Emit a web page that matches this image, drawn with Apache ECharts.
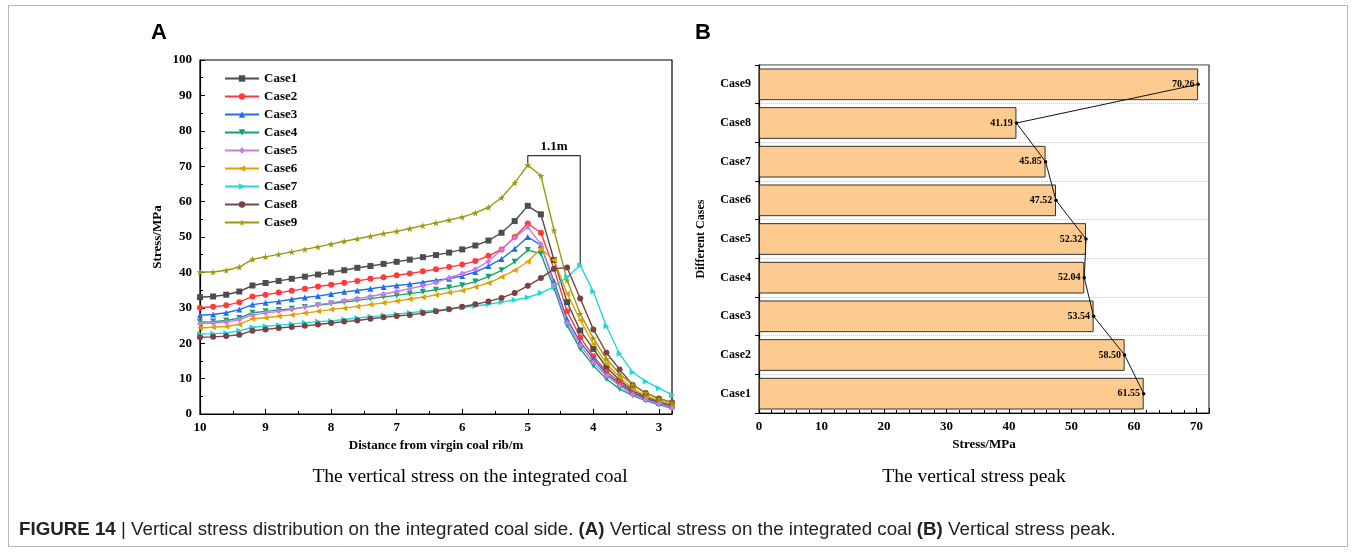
<!DOCTYPE html>
<html lang="en">
<head>
    <meta charset="UTF-8">
    <title>Vertical stress</title>
    <script src="https://cdn.jsdelivr.net/npm/echarts@6/dist/echarts.min.js"></script>
    <style>
        html, body {margin: 0; padding: 0; background: #fff;}
        #chart1 {width: 1356px; height: 552px;}
    </style>
</head>
<body>
<div id="chart1"></div>
<script type="text/javascript">
    // distance from virgin coal rib (m)
    var distance = [10.0, 9.8, 9.6, 9.4, 9.2, 9.0, 8.8, 8.6, 8.4, 8.2, 8.0, 7.8, 7.6, 7.4, 7.2, 7.0, 6.8, 6.6, 6.4,
        6.2, 6.0, 5.8, 5.6, 5.4, 5.2, 5.0, 4.8, 4.6, 4.4, 4.2, 4.0, 3.8, 3.6, 3.4, 3.2, 3.0, 2.8];

    var case1 = [33.0, 33.2, 33.7, 34.6, 36.3, 37.0, 37.6, 38.2, 38.8, 39.4, 40.0, 40.6, 41.3, 41.8, 42.4, 43.0, 43.6, 44.3, 44.9,
        45.6, 46.5, 47.6, 49.0, 51.2, 54.5, 58.8, 56.4, 43.5, 31.6, 23.6, 18.4, 13.2, 9.6, 6.6, 4.8, 3.5, 2.5];
    var case2 = [30.0, 30.3, 30.7, 31.6, 33.2, 33.7, 34.3, 34.8, 35.4, 36.0, 36.5, 37.1, 37.6, 38.2, 38.6, 39.2, 39.7, 40.3, 40.9,
        41.5, 42.2, 43.2, 44.7, 46.5, 50.0, 53.8, 51.2, 41.0, 29.0, 21.7, 16.3, 12.0, 9.0, 6.1, 4.5, 3.3, 2.3];
    var case3 = [27.9, 28.1, 28.6, 29.5, 30.9, 31.4, 31.8, 32.4, 32.9, 33.3, 33.9, 34.5, 34.9, 35.4, 35.9, 36.3, 36.7, 37.2, 37.8,
        38.2, 39.0, 40.1, 41.8, 43.8, 46.7, 50.0, 47.7, 37.5, 26.8, 20.3, 15.6, 11.3, 8.5, 5.9, 4.3, 3.1, 2.1];
    var case4 = [26.0, 26.1, 26.4, 27.1, 28.6, 29.0, 29.4, 29.7, 30.2, 30.7, 31.2, 31.6, 32.1, 32.6, 33.1, 33.5, 34.0, 34.5, 35.1,
        35.7, 36.4, 37.4, 38.8, 40.6, 43.0, 46.3, 45.3, 35.5, 25.0, 18.4, 13.7, 9.9, 7.1, 5.2, 3.8, 2.6, 1.6];
    var case5 = [25.5, 25.7, 26.0, 26.6, 28.0, 28.5, 29.0, 29.5, 30.2, 30.9, 31.4, 32.0, 32.6, 33.2, 33.9, 34.6, 35.4, 36.2, 37.1,
        38.5, 39.7, 40.9, 43.1, 46.5, 49.8, 52.8, 48.0, 36.5, 25.8, 19.4, 14.6, 10.8, 8.0, 5.5, 4.0, 2.8, 1.8];
    var case6 = [24.3, 24.5, 24.7, 25.3, 26.9, 27.2, 27.6, 28.0, 28.5, 29.0, 29.5, 29.9, 30.4, 30.9, 31.4, 31.9, 32.5, 33.0, 33.6,
        34.3, 34.9, 35.9, 37.0, 38.7, 40.6, 43.0, 46.7, 43.5, 34.0, 26.5, 19.8, 14.2, 10.4, 7.1, 5.2, 3.8, 2.8];
    var case7 = [22.6, 22.7, 22.9, 23.5, 24.5, 24.8, 25.1, 25.4, 25.8, 26.1, 26.3, 26.7, 27.1, 27.5, 27.8, 28.2, 28.6, 29.0, 29.3,
        29.7, 30.1, 30.5, 31.0, 31.6, 32.2, 32.9, 34.2, 35.9, 38.7, 42.0, 34.6, 24.8, 17.0, 11.8, 9.2, 7.3, 5.4];
    var case8 = [21.7, 21.8, 22.0, 22.4, 23.5, 23.9, 24.3, 24.6, 24.9, 25.3, 25.7, 26.1, 26.4, 26.9, 27.3, 27.7, 28.0, 28.5, 29.0,
        29.6, 30.3, 31.0, 31.8, 32.8, 34.2, 36.2, 38.4, 41.0, 41.4, 32.6, 23.9, 17.3, 12.6, 8.2, 5.9, 4.4, 3.3];
    var case9 = [40.1, 40.1, 40.6, 41.5, 43.7, 44.4, 45.1, 45.8, 46.5, 47.2, 48.0, 48.8, 49.5, 50.2, 51.0, 51.6, 52.4, 53.2, 54.0,
        54.8, 55.6, 56.8, 58.4, 61.1, 65.3, 70.3, 67.3, 51.9, 37.8, 28.3, 21.4, 15.6, 11.3, 8.3, 6.0, 4.3, 3.2];

    var caseNames = ['Case1', 'Case2', 'Case3', 'Case4', 'Case5', 'Case6', 'Case7', 'Case8', 'Case9'];
    var caseColors = ['#4d4d4d', '#ff3a3a', '#1f6fe8', '#10a468', '#c97be8', '#e3a100', '#1fd8d8', '#7b4242', '#9a9a12'];

    // peak stress (MPa) per case, panel B
    var peakValues = [61.55, 58.50, 53.54, 52.04, 52.32, 47.52, 45.85, 41.19, 70.26];

    // 1.1m bracket between the Case9 and Case7 peaks
    var bracketX = [5.0, 4.2];
    var bracketTop = 73;

    var starPath = 'path://M50,0 L61,35 L98,35 L68,57 L79,91 L50,70 L21,91 L32,57 L2,35 L39,35 Z';
    var symbols = [
        {symbol: 'rect', rotate: 0},
        {symbol: 'circle', rotate: 0},
        {symbol: 'triangle', rotate: 0},
        {symbol: 'triangle', rotate: 180},
        {symbol: 'diamond', rotate: 0},
        {symbol: 'triangle', rotate: 90},
        {symbol: 'triangle', rotate: -90},
        {symbol: 'circle', rotate: 0},
        {symbol: starPath, rotate: 0}
    ];
    var allCases = [case1, case2, case3, case4, case5, case6, case7, case8, case9];

    var serif = '"Liberation Serif", "Times New Roman", serif';
    var axisFont = {fontFamily: serif, fontWeight: 'bold', fontSize: 13, color: '#000'};
    var capFont = '"Liberation Sans", Arial, sans-serif';

    var series = [];
    for (var i = 0; i < allCases.length; i++) {
        var vals = allCases[i];
        series.push({
            name: caseNames[i],
            type: 'line',
            xAxisIndex: 0,
            yAxisIndex: 0,
            data: distance.map(function (d, k) { return [d, vals[k]]; }),
            symbol: symbols[i].symbol,
            symbolRotate: symbols[i].rotate,
            symbolSize: i === 8 ? 7 : 6,
            color: caseColors[i],
            lineStyle: {width: 1.4, color: caseColors[i]},
            z: 3
        });
    }

    // bracket
    series.push({
        name: 'bracket',
        type: 'line',
        xAxisIndex: 0,
        yAxisIndex: 0,
        data: [[bracketX[0], case9[distance.indexOf(bracketX[0])]], [bracketX[0], bracketTop],
            [bracketX[1], bracketTop], [bracketX[1], case7[distance.indexOf(bracketX[1])]]],
        symbol: 'none',
        lineStyle: {width: 1.2, color: '#333'},
        silent: true,
        markPoint: {
            symbol: 'circle',
            symbolSize: 0,
            data: [{coord: [(bracketX[0] + bracketX[1]) / 2, bracketTop], value: '1.1m'}],
            label: {show: true, position: 'top', distance: 2, formatter: '1.1m',
                fontFamily: serif, fontWeight: 'bold', fontSize: 13, color: '#000'}
        },
        z: 2
    });

    // panel B bars
    series.push({
        name: 'peak',
        type: 'bar',
        xAxisIndex: 1,
        yAxisIndex: 1,
        data: peakValues,
        barCategoryGap: '18%',
        itemStyle: {color: '#fdcb8f', borderColor: '#333', borderWidth: 1},
        z: 2
    });
    series.push({
        name: 'peakLine',
        type: 'line',
        xAxisIndex: 1,
        yAxisIndex: 1,
        data: peakValues.map(function (v, k) { return [v, caseNames[k]]; }),
        symbol: 'circle',
        symbolSize: 3.5,
        color: '#000',
        lineStyle: {width: 1, color: '#111'},
        label: {
            show: true, position: 'left', distance: 2,
            formatter: function (p) { return p.value[0].toFixed(2); },
            fontFamily: serif, fontWeight: 'bold', fontSize: 10, color: '#000'
        },
        z: 4
    });

    var myChart = echarts.init(document.getElementById('chart1'));
    var option = {
        backgroundColor: '#fff',
        animation: false,
        grid: [
            {left: 200, top: 60, width: 472, height: 354, show: true, borderColor: '#000', borderWidth: 1.2},
            {left: 759, top: 65, width: 450, height: 348, show: true, borderColor: '#333', borderWidth: 1.2}
        ],
        legend: {
            data: caseNames,
            orient: 'vertical',
            left: 219,
            top: 67,
            itemWidth: 34,
            itemHeight: 8,
            itemGap: 5,
            textStyle: {fontFamily: serif, fontWeight: 'bold', fontSize: 13, color: '#000', lineHeight: 12}
        },
        xAxis: [
            {
                gridIndex: 0, type: 'value', inverse: true, min: 2.8, max: 10,
                minInterval: 1, maxInterval: 1,
                name: 'Distance from virgin coal rib/m', nameLocation: 'middle', nameGap: 22,
                nameTextStyle: axisFont,
                axisLine: {show: true, lineStyle: {color: '#000', width: 1.2}},
                axisTick: {show: true, inside: true, length: 5, lineStyle: {color: '#000'}},
                minorTick: {show: true, splitNumber: 2, length: 3, lineStyle: {color: '#000'}},
                axisLabel: {
                    margin: 7, fontFamily: serif, fontWeight: 'bold', fontSize: 13, color: '#000',
                    formatter: function (v) { return Number.isInteger(v) ? String(v) : ''; }
                },
                splitLine: {show: false}
            },
            {
                gridIndex: 1, type: 'value', min: 0, max: 72, interval: 10,
                name: 'Stress/MPa', nameLocation: 'middle', nameGap: 22,
                nameTextStyle: axisFont,
                axisLine: {show: true, lineStyle: {color: '#000', width: 1.2}},
                axisTick: {show: true, inside: true, length: 5, lineStyle: {color: '#000'}},
                minorTick: {show: true, splitNumber: 5, length: 3, lineStyle: {color: '#000'}},
                axisLabel: {
                    margin: 7, fontFamily: serif, fontWeight: 'bold', fontSize: 13, color: '#000',
                    formatter: function (v) { return v % 10 === 0 ? String(v) : ''; }
                },
                splitLine: {show: false}
            }
        ],
        yAxis: [
            {
                gridIndex: 0, type: 'value', min: 0, max: 100, interval: 10,
                name: 'Stress/MPa', nameLocation: 'middle', nameGap: 36,
                nameTextStyle: axisFont,
                axisLine: {show: true, lineStyle: {color: '#000', width: 1.2}},
                axisTick: {show: true, inside: true, length: 5, lineStyle: {color: '#000'}},
                minorTick: {show: true, splitNumber: 2, length: 3, lineStyle: {color: '#000'}},
                axisLabel: axisFont,
                splitLine: {show: false}
            },
            {
                gridIndex: 1, type: 'category', data: caseNames,
                name: 'Different Cases', nameLocation: 'middle', nameGap: 52,
                nameTextStyle: {fontFamily: serif, fontWeight: 'bold', fontSize: 12, color: '#000'},
                axisLine: {show: true, lineStyle: {color: '#000', width: 1.2}},
                axisTick: {show: true, length: 4, lineStyle: {color: '#000'}},
                axisLabel: {margin: 8, fontFamily: serif, fontWeight: 'bold', fontSize: 12, color: '#000'},
                splitLine: {show: true, lineStyle: {type: 'dotted', color: '#c8c8c8'}}
            }
        ],
        series: series,
        graphic: [
            {type: 'rect', shape: {x: 8.5, y: 5.5, width: 1339, height: 541},
                style: {fill: 'none', stroke: '#b5b5b5', lineWidth: 1}, silent: true},
            {type: 'text', left: 151, top: 22,
                style: {text: 'A', font: 'bold 22px ' + capFont, fill: '#000'}},
            {type: 'text', left: 695, top: 22,
                style: {text: 'B', font: 'bold 22px ' + capFont, fill: '#000'}},
            {type: 'text', x: 470, y: 477,
                style: {text: 'The vertical stress on the integrated coal', font: '19.5px ' + serif,
                    fill: '#000', align: 'center', verticalAlign: 'middle'}},
            {type: 'text', x: 974, y: 477,
                style: {text: 'The vertical stress peak', font: '19.5px ' + serif,
                    fill: '#000', align: 'center', verticalAlign: 'middle'}},
            {type: 'text', x: 19, y: 530, scaleX: 1.07,
                style: {
                    text: '{b|FIGURE 14} | Vertical stress distribution on the integrated coal side. {b|(A)} Vertical stress on the integrated coal {b|(B)} Vertical stress peak.',
                    font: '17.5px ' + capFont,
                    fill: '#222', verticalAlign: 'middle',
                    rich: {b: {fontWeight: 'bold', fontSize: 17.5, fontFamily: capFont, fill: '#222'}}
                }}
        ]
    };
    myChart.setOption(option);
</script>
</body>
</html>
